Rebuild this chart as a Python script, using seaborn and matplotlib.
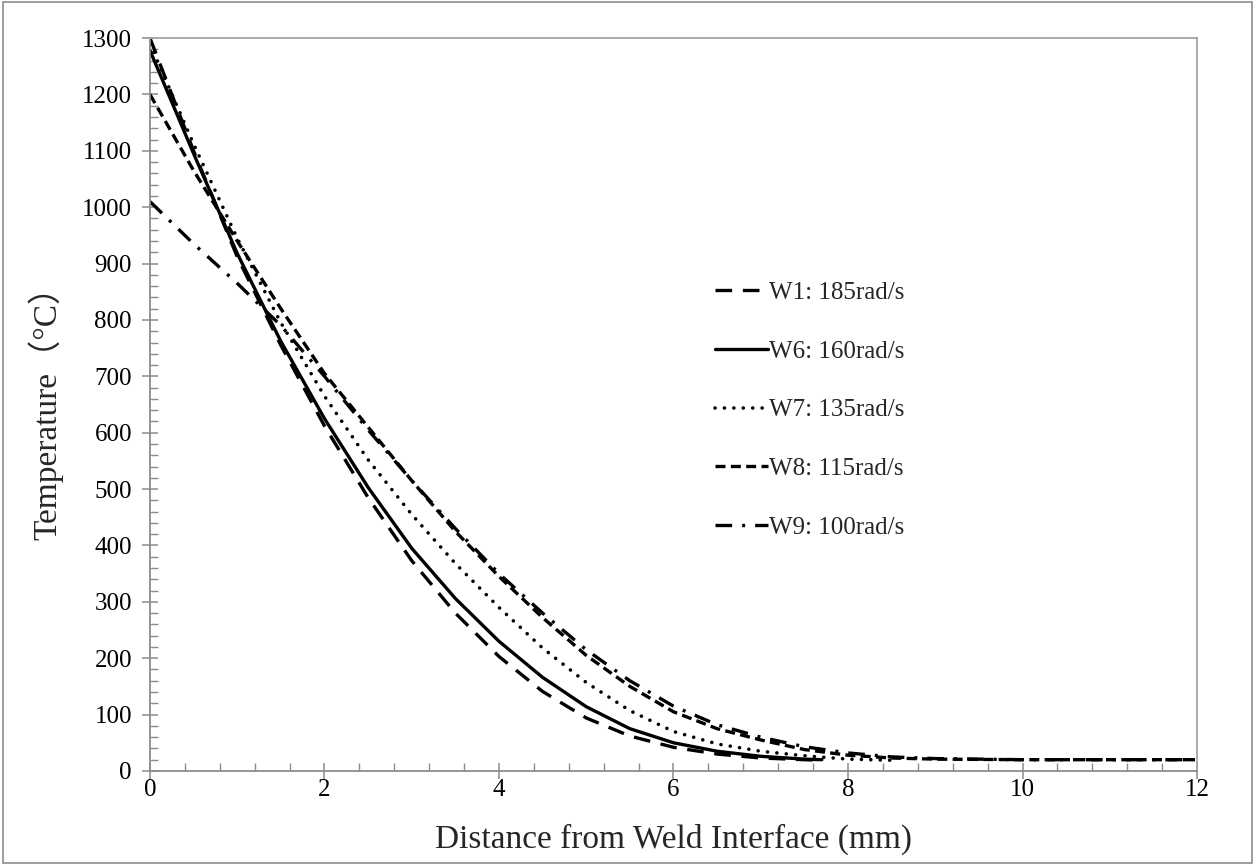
import numpy as np
import pandas as pd
import matplotlib
matplotlib.use("Agg")
import matplotlib.pyplot as plt
import seaborn as sns
from matplotlib.ticker import MultipleLocator
from matplotlib.patches import Rectangle

# ----------------------------
# Data
# ----------------------------
x_w1 = [0, 0.5, 1, 1.5, 2, 2.5, 3, 3.5, 4, 4.5, 5, 5.5, 6, 6.5, 7, 7.5, 7.7]
t_w1 = [1300, 1100, 912, 755, 612, 485, 373, 280, 203, 141, 94, 62, 42, 30, 23, 20, 19]

x_w6 = [0, 0.5, 1, 1.5, 2, 2.5, 3, 3.5, 4, 4.5, 5, 5.5, 6, 6.5, 7, 7.5, 7.7]
t_w6 = [1278, 1095, 918, 762, 625, 503, 395, 306, 230, 166, 114, 75, 50, 35, 26, 21, 20]

x_w7 = [0, 0.5, 1, 1.5, 2, 2.5, 3, 3.5, 4, 4.5, 5, 5.5, 6, 6.5, 7, 7.5, 8, 8.5]
t_w7 = [1290, 1112, 945, 795, 665, 552, 455, 368, 290, 218, 157, 107, 70, 48, 35, 27, 21, 19]

x_w8 = [0, 0.5, 1, 1.5, 2, 2.5, 3, 3.5, 4, 4.5, 5, 5.5, 6, 6.5, 7, 7.5, 8, 8.5, 9, 10, 11, 12]
t_w8 = [1200, 1065, 940, 820, 705, 610, 515, 425, 345, 272, 205, 150, 105, 75, 55, 38, 28, 23, 21, 20, 20, 20]

x_w9 = [0, 0.5, 1, 1.5, 2, 2.5, 3, 3.5, 4, 4.5, 5, 5.5, 6, 6.5, 7, 7.5, 8, 8.5, 9, 10, 11, 12]
t_w9 = [1010, 935, 865, 790, 700, 605, 515, 430, 350, 280, 215, 160, 115, 82, 60, 43, 32, 25, 22, 20, 20, 20]

labels = ["W1: 185rad/s", "W6: 160rad/s", "W7: 135rad/s", "W8: 115rad/s", "W9: 100rad/s"]

series = [
    (x_w1, t_w1, labels[0], dict(dashes=(5, 3.2))),
    (x_w6, t_w6, labels[1], dict(linestyle="-")),
    (x_w7, t_w7, labels[2], dict(dashes=(0.01, 2.6), dash_capstyle="round", lw=2.6)),
    (x_w8, t_w8, labels[3], dict(dashes=(3, 1.6))),
    (x_w9, t_w9, labels[4], dict(dashes=(5, 3, 0.9, 3))),
]

sns.set_style("white")
plt.rcParams["font.family"] = ["Liberation Serif", "Noto Sans CJK SC", "DejaVu Serif"]

fig = plt.figure(figsize=(12.55, 8.65), dpi=100)
ax = fig.add_axes([0.1195, 0.1087, 0.8343, 0.8473])

for xs, ys, lab, kw in series:
    df = pd.DataFrame({"x": xs, "y": ys})
    style = {"lw": 2.4, "color": "black"}
    style.update(kw)
    sns.lineplot(data=df, x="x", y="y", ax=ax, label=lab, sort=False,
                 estimator=None, **style)

ax.set_xlim(0, 12)
ax.set_ylim(0, 1300)
ax.xaxis.set_major_locator(MultipleLocator(2))
ax.xaxis.set_minor_locator(MultipleLocator(0.4))
ax.yaxis.set_major_locator(MultipleLocator(100))
ax.yaxis.set_minor_locator(MultipleLocator(20))

axis_grey = "#8c8c8c"
for side in ["left", "bottom", "top", "right"]:
    ax.spines[side].set_color(axis_grey if side in ("left", "bottom") else "#a6a6a6")
    ax.spines[side].set_linewidth(1.3)

ax.tick_params(which="major", direction="inout", length=12, width=1.1,
               color=axis_grey, labelsize=18, labelcolor="black")
ax.tick_params(axis="x", which="major", pad=0)
ax.tick_params(axis="y", which="major", pad=7)
ax.tick_params(which="minor", direction="in", length=6, width=1.0, color=axis_grey)
ax.tick_params(axis="both", which="both", bottom=True, left=True, top=False, right=False)

ax.set_xlabel("Distance from Weld Interface (mm)", fontsize=24, labelpad=16)
ax.set_ylabel("Temperature（°C）", fontsize=24, labelpad=13)

ax.legend(loc="center left", bbox_to_anchor=(0.54, 0.4925), frameon=False,
          fontsize=18, handlelength=2.1, handletextpad=0.05, labelspacing=1.45,
          borderpad=0, borderaxespad=0)

# chart-area border
fig.patches.append(Rectangle((0.002, 0.002), 0.996, 0.996, transform=fig.transFigure,
                             fill=False, edgecolor="#8c8c8c", linewidth=1.2))

fig.savefig("out.png", dpi=100)
